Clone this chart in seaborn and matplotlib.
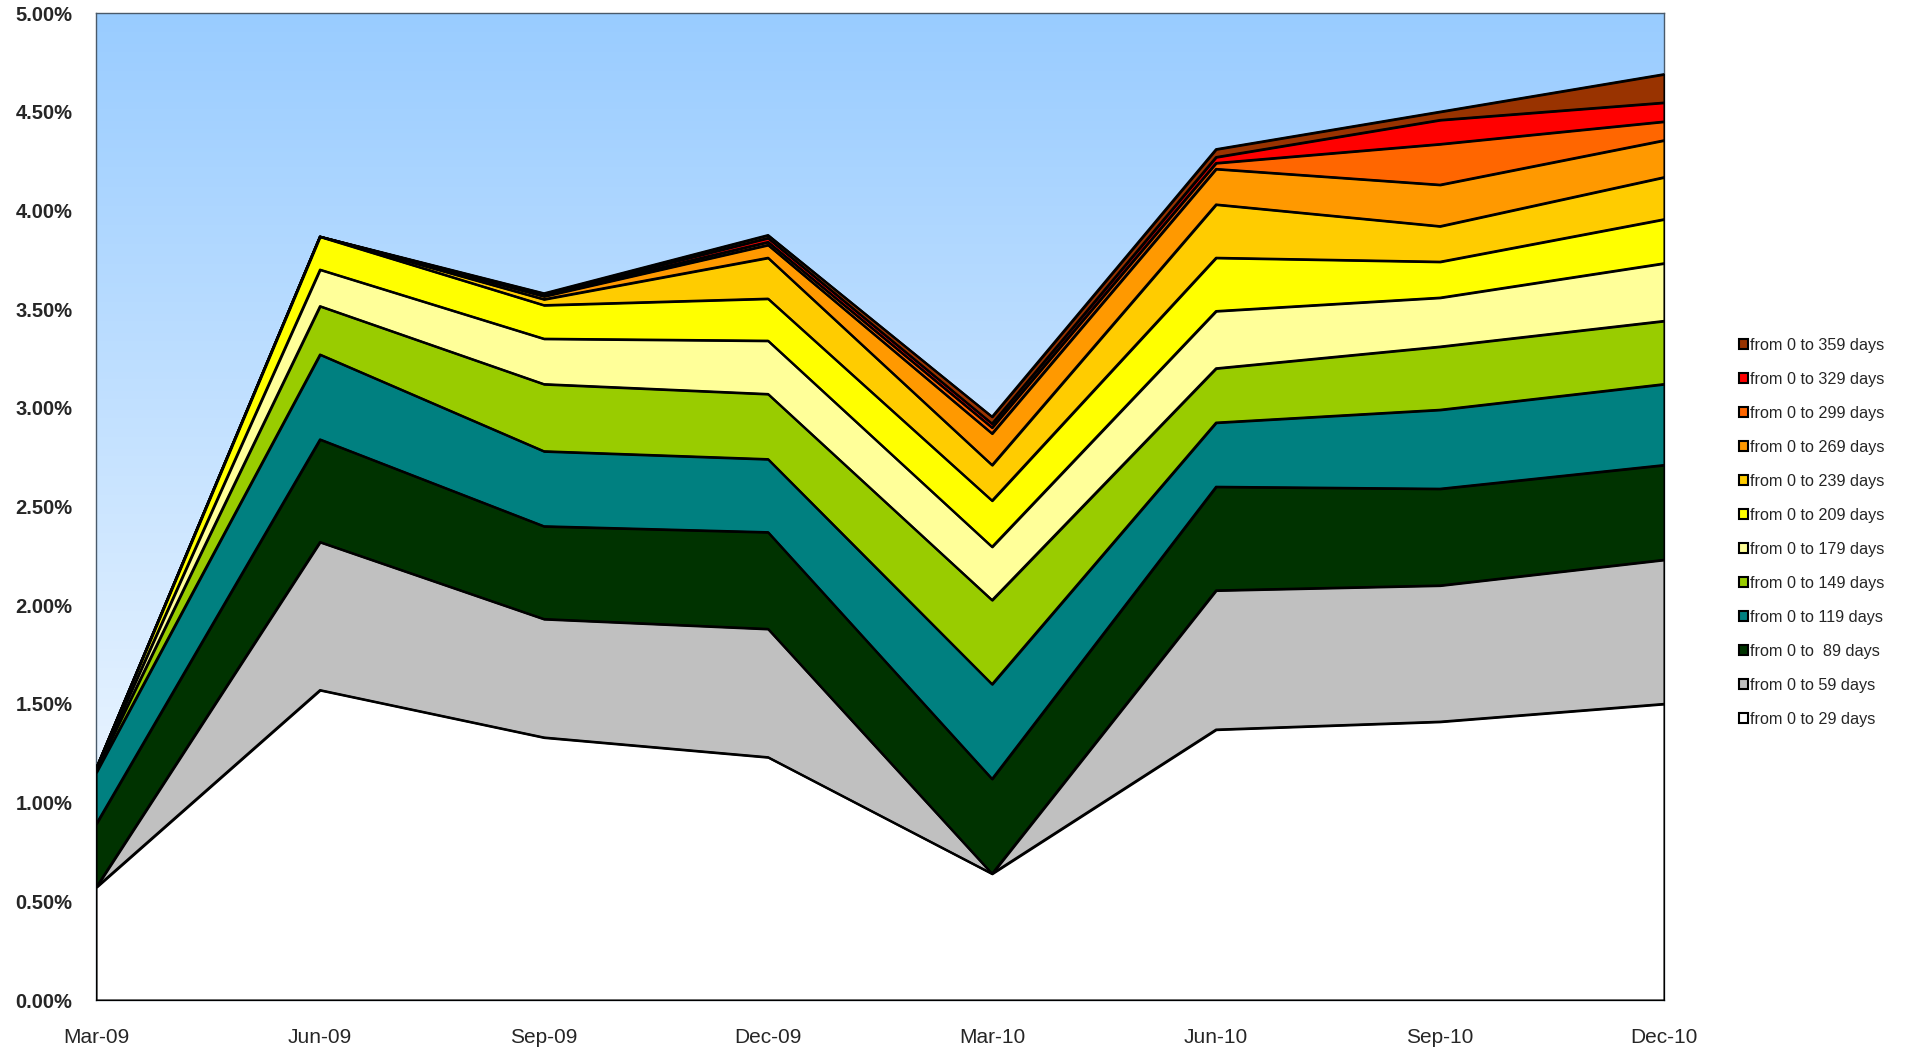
import numpy as np
import pandas as pd
import matplotlib
matplotlib.use('Agg')
import matplotlib.pyplot as plt
import seaborn as sns
from matplotlib.colors import LinearSegmentedColormap
from matplotlib.ticker import PercentFormatter
from matplotlib.patches import Patch

quarters = ['Mar-09', 'Jun-09', 'Sep-09', 'Dec-09', 'Mar-10', 'Jun-10', 'Sep-10', 'Dec-10']

# cumulative rates (%), one list per bucket
d29 = [0.57, 1.57, 1.33, 1.23, 0.64, 1.37, 1.41, 1.50]
d59 = [0.57, 2.32, 1.93, 1.88, 0.64, 2.075, 2.10, 2.23]
d89 = [0.89, 2.84, 2.40, 2.37, 1.12, 2.60, 2.59, 2.71]
d119 = [1.15, 3.27, 2.78, 2.74, 1.60, 2.925, 2.99, 3.12]
d149 = [1.16, 3.515, 3.12, 3.07, 2.026, 3.20, 3.31, 3.44]
d179 = [1.165, 3.70, 3.35, 3.34, 2.296, 3.49, 3.558, 3.732]
d209 = [1.17, 3.867, 3.52, 3.553, 2.53, 3.76, 3.74, 3.955]
d239 = [1.17, 3.867, 3.55, 3.76, 2.71, 4.03, 3.92, 4.168]
d269 = [1.17, 3.867, 3.565, 3.825, 2.87, 4.21, 4.13, 4.355]
d299 = [1.17, 3.867, 3.57, 3.84, 2.90, 4.24, 4.336, 4.45]
d329 = [1.17, 3.867, 3.575, 3.86, 2.92, 4.27, 4.458, 4.546]
d359 = [1.17, 3.867, 3.58, 3.875, 2.955, 4.31, 4.50, 4.69]

labels = ['from 0 to 29 days', 'from 0 to 59 days', 'from 0 to  89 days', 'from 0 to 119 days',
          'from 0 to 149 days', 'from 0 to 179 days', 'from 0 to 209 days', 'from 0 to 239 days',
          'from 0 to 269 days', 'from 0 to 299 days', 'from 0 to 329 days', 'from 0 to 359 days']
series = [d29, d59, d89, d119, d149, d179, d209, d239, d269, d299, d329, d359]
colors = ['#FFFFFF', '#C0C0C0', '#003300', '#008080', '#99CC00', '#FFFF99',
          '#FFFF00', '#FFCC00', '#FF9900', '#FF6600', '#FF0000', '#993300']

rows = []
for lab, vals in zip(labels, series):
    for i, v in enumerate(vals):
        rows.append({'bucket': lab, 'x': i, 'rate': v / 100})
df = pd.DataFrame(rows)

sns.set_theme(style='white')
plt.rcParams['font.family'] = ['Liberation Sans', 'DejaVu Sans']

fig = plt.figure(figsize=(19.16, 10.52), dpi=100)
ax = fig.add_axes([0.0501, 0.0494, 0.8184, 0.9382])

# gradient background
bg = LinearSegmentedColormap.from_list('bg', ['#FFFFFF', '#99CCFF'])
grad = np.linspace(0, 1, 256)[:, None]
ax.imshow(grad, extent=[0, 7, 0, 0.05], origin='lower', aspect='auto', cmap=bg, zorder=0)

# largest bucket at the back, smallest in front
for k in range(len(series) - 1, -1, -1):
    sub = df[df['bucket'] == labels[k]]
    ax.fill_between(sub['x'], 0, sub['rate'], facecolor=colors[k], edgecolor='black',
                    linewidth=1.6, zorder=2 + (len(series) - k))

sns.lineplot(data=df, x='x', y='rate', units='bucket', estimator=None, color='black',
             linewidth=1.6, legend=False, ax=ax, zorder=20)

ax.set_xlim(0, 7)
ax.set_ylim(0, 0.05)
ax.set_xticks(range(len(quarters)))
ax.set_xticklabels(quarters)
ax.set_yticks(np.arange(0, 0.0501, 0.005))
ax.yaxis.set_major_formatter(PercentFormatter(xmax=1, decimals=2))
ax.set_xlabel('')
ax.set_ylabel('')
ax.tick_params(axis='x', length=0, pad=20, labelsize=15)
ax.tick_params(axis='y', length=0, pad=17, labelsize=14.5)
for t in ax.get_yticklabels():
    t.set_fontweight('bold')
for s in ax.spines.values():
    s.set_color('#4a5a6a')
    s.set_linewidth(1.0)

handles = [Patch(facecolor=colors[k], edgecolor='black', linewidth=1.5, label=labels[k])
           for k in range(len(series) - 1, -1, -1)]
fig.legend(handles=handles, loc='center left', bbox_to_anchor=(0.904, 0.494), frameon=False,
           fontsize=11.7, handlelength=0.6, handleheight=0.6, handletextpad=0.1,
           labelspacing=1.17, borderaxespad=0)

fig.savefig('out.png', dpi=100)
